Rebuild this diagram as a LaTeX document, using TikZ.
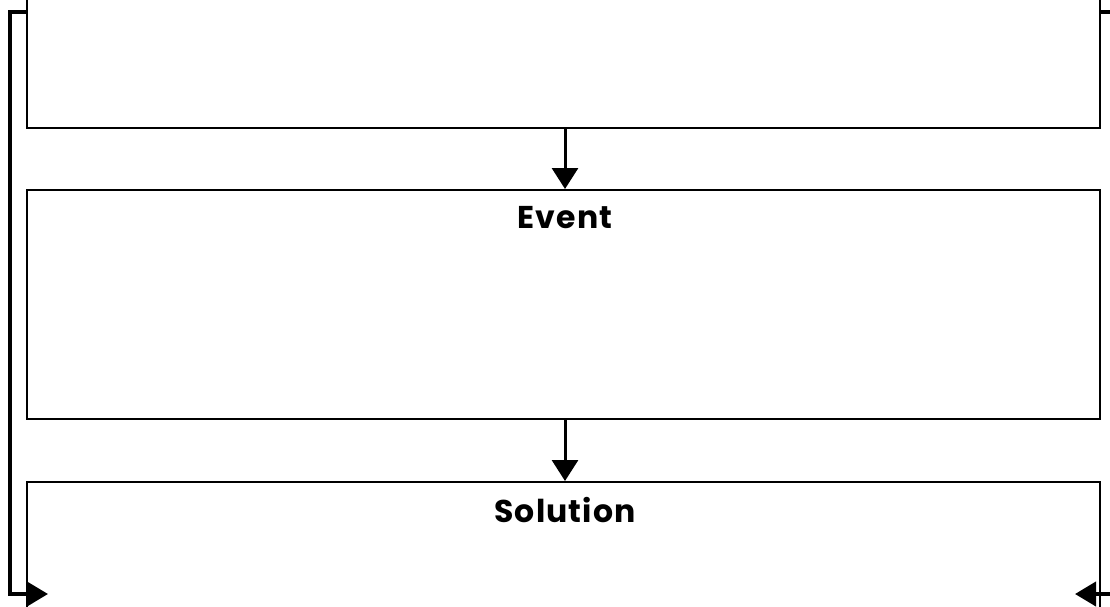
\documentclass[tikz,border=0pt]{standalone}
\usepackage{fontspec}
\setmainfont{Poppins}
\usetikzlibrary{arrows.meta}
\begin{document}
\begin{tikzpicture}[x=1pt,y=-1pt,
  box/.style={draw=black,line width=1.6pt,rectangle,inner sep=0pt,anchor=north west},
  title/.style={font=\bfseries\fontsize{31.5}{36}\selectfont\addfontfeature{LetterSpace=3.5},anchor=center},
  flow/.style={line width=3pt,-{Triangle[length=21pt,width=26pt]}},
  loop/.style={line width=4pt,-{Triangle[length=21pt,width=24pt]}}]
\useasboundingbox (0,0) rectangle (1110,607);
\clip (0,0) rectangle (1110,607);
\node[box,minimum width=1073pt,minimum height=157pt] (top) at (26,-30) {};
\node[box,minimum width=1073pt,minimum height=229pt] (event) at (26,189) {};
\node[box,minimum width=1073pt,minimum height=160pt] (solution) at (26,481) {};
\node[title] (eventtitle) at (565,218) {Event};
\node[title] (solutiontitle) at (565,510) {Solution};
\draw[flow] (top.south -| eventtitle) -- (event.north -| eventtitle);
\draw[flow] (event.south -| solutiontitle) -- (solution.north -| solutiontitle);
\coordinate (lstart) at (26,12);
\coordinate (ltip) at (48,594);
\coordinate (rstart) at (1099,12);
\coordinate (rout) at (1120,12);
\coordinate (rin) at (1120,594);
\coordinate (rtip) at (1075,594);
\draw[loop,line join=miter] (lstart) -- (10,12) |- (ltip);
\draw[line width=4pt] (rstart) -- (rout);
\draw[loop] (rin) -- (rtip);
\end{tikzpicture}
\end{document}
